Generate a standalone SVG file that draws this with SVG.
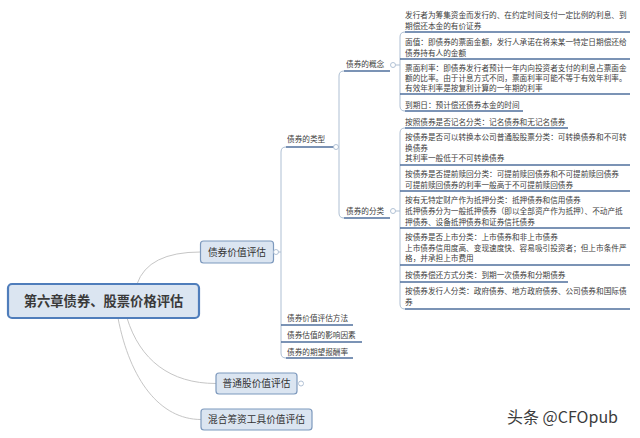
<svg xmlns="http://www.w3.org/2000/svg" width="640" height="438" viewBox="0 0 640 438">
<style>
text{font-family:"Microsoft YaHei","Noto Sans CJK SC","Noto Sans",sans-serif;fill:#404040}
.leaf{font-size:7.65px}
.node{font-size:9.7px;text-anchor:middle;fill:#333}
.root{font-size:13.3px;font-weight:bold;text-anchor:middle;fill:#3a3a3a}
.box{fill:#dbe5f1;stroke:#7d99bd;stroke-width:1.2}
.rootbox{fill:#dbe5f1;stroke:#4f7dbb;stroke-width:2.2}
.ul{stroke:#4f6f9c;stroke-width:1.3;fill:none}
.br{stroke:#aebfd3;stroke-width:1;fill:none}
.cn{stroke:#c6c6c6;stroke-width:1;fill:none}
.dot{fill:#fff;stroke:#a9bbd0;stroke-width:0.9}
.wm{font-family:"Noto Sans CJK SC","Liberation Sans",sans-serif;font-size:16px;fill:#3c3c3c;stroke:#fff;stroke-width:2;paint-order:stroke}
</style>
<rect width="640" height="438" fill="#fff"/>
<g id="connectors">
<path class="cn" d="M137,284 Q148,252 200.5,252"/>
<path class="cn" d="M127,318 C140,360 170,383.5 216,383.5"/>
<path class="cn" d="M118,318 C130,380 160,419.5 201,419.5"/>
<path class="br" d="M278.5,252 L281,252"/>
<path class="br" d="M286,147 Q281,147 281,152 L281,353 Q281,358 286,358"/>
<path class="br" d="M336.5,147 L339,147"/>
<path class="br" d="M344,71 Q339,71 339,76 L339,213 Q339,218 344,218"/>
<path class="br" d="M395.5,65 L400,65"/>
<path class="br" d="M405,32 Q400,32 400,37 L400,106 Q400,111 405,111"/>
<path class="br" d="M395.5,211 L400,211"/>
<path class="br" d="M405,128 Q400,128 400,133 L400,304 Q400,309 405,309"/>
</g>
<g id="root">
<rect class="rootbox" x="8" y="284" width="191" height="34" rx="4"/>
<text class="root" x="103.5" y="306">第六章债券、股票价格评估</text>
</g>
<g id="n-bond-value">
<rect class="box" x="200.5" y="241" width="73" height="22" rx="3"/>
<text class="node" x="237" y="255.6">债券价值评估</text>
<circle class="dot" cx="276" cy="252" r="2.5"/>
</g>
<g id="n-stock">
<rect class="box" x="216" y="373" width="81" height="21" rx="3"/>
<text class="node" x="256.5" y="387.2">普通股价值评估</text>
<circle class="dot" cx="301" cy="383.5" r="2.5"/>
</g>
<g id="n-hybrid">
<rect class="box" x="201" y="409" width="111" height="21" rx="3"/>
<text class="node" x="256.5" y="423.2">混合筹资工具价值评估</text>
</g>
<g id="n-type">
<text class="leaf" x="287" y="142">债券的类型</text>
<path class="ul" d="M286,147 L334,147"/>
<circle class="dot" cx="336" cy="147" r="2.5"/>
</g>
<g id="n-method">
<text class="leaf" x="287" y="321">债券价值评估方法</text>
<path class="ul" d="M281,325 L353,325"/>
</g>
<g id="n-factor">
<text class="leaf" x="287" y="338">债券估值的影响因素</text>
<path class="ul" d="M281,342 L362,342"/>
</g>
<g id="n-return">
<text class="leaf" x="287" y="354.5">债券的期望报酬率</text>
<path class="ul" d="M286,358 L353,358"/>
</g>
<g id="n-concept">
<text class="leaf" x="346" y="67">债券的概念</text>
<path class="ul" d="M344,71 L390,71"/>
<circle class="dot" cx="393" cy="65" r="2.5"/>
</g>
<g id="n-class">
<text class="leaf" x="346" y="214">债券的分类</text>
<path class="ul" d="M344,218 L390,218"/>
<circle class="dot" cx="393" cy="211" r="2.5"/>
</g>
<g id="c1">
<text class="leaf" x="405" y="18">发行者为筹集资金而发行的、在约定时间支付一定比例的利息、到</text>
<text class="leaf" x="405" y="29">期偿还本金的有价证券</text>
<path class="ul" d="M405,32 L630,32"/>
</g>
<g id="c2">
<text class="leaf" x="405" y="45">面值：即债券的票面金额，发行人承诺在将来某一特定日期偿还给</text>
<text class="leaf" x="405" y="55.5">债券持有人的金额</text>
<path class="ul" d="M400,59 L630,59"/>
</g>
<g id="c3">
<text class="leaf" x="405" y="70.5">票面利率：即债券发行者预计一年内向投资者支付的利息占票面金</text>
<text class="leaf" x="405" y="81">额的比率。由于计息方式不同，票面利率可能不等于有效年利率。</text>
<text class="leaf" x="405" y="91">有效年利率是按复利计算的一年期的利率</text>
<path class="ul" d="M400,94 L630,94"/>
</g>
<g id="c4">
<text class="leaf" x="405" y="107.5">到期日：预计偿还债券本金的时间</text>
<path class="ul" d="M405,111 L523,111"/>
</g>
<g id="k1">
<text class="leaf" x="405" y="124.5">按照债券是否记名分类：记名债券和无记名债券</text>
<path class="ul" d="M405,128 L568,128"/>
</g>
<g id="k2">
<text class="leaf" x="405" y="140">按债券是否可以转换本公司普通股股票分类：可转换债券和不可转</text>
<text class="leaf" x="405" y="150.5">换债券</text>
<text class="leaf" x="405" y="161">其利率一般低于不可转换债券</text>
<path class="ul" d="M400,165 L630,165"/>
</g>
<g id="k3">
<text class="leaf" x="405" y="176.5">按债券是否提前赎回分类：可提前赎回债券和不可提前赎回债券</text>
<text class="leaf" x="405" y="187.5">可提前赎回债券的利率一般高于不可提前赎回债券</text>
<path class="ul" d="M400,191 L630,191"/>
</g>
<g id="k4">
<text class="leaf" x="405" y="203">按有无特定财产作为抵押分类：抵押债券和信用债券</text>
<text class="leaf" x="405" y="214">抵押债券分为一般抵押债券（即以全部资产作为抵押）、不动产抵</text>
<text class="leaf" x="405" y="225">押债券、设备抵押债券和证券信托债券</text>
<path class="ul" d="M400,228 L630,228"/>
</g>
<g id="k5">
<text class="leaf" x="405" y="240">按债券是否上市分类：上市债券和非上市债券</text>
<text class="leaf" x="405" y="251">上市债券信用度高、变现速度快、容易吸引投资者；但上市条件严</text>
<text class="leaf" x="405" y="261">格，并承担上市费用</text>
<path class="ul" d="M400,265 L630,265"/>
</g>
<g id="k6">
<text class="leaf" x="405" y="278">按债券偿还方式分类：到期一次债券和分期债券</text>
<path class="ul" d="M400,282 L568,282"/>
</g>
<g id="k7">
<text class="leaf" x="405" y="294">按债券发行人分类：政府债券、地方政府债券、公司债券和国际债</text>
<text class="leaf" x="405" y="304.5">券</text>
<path class="ul" d="M405,309 L630,309"/>
</g>
<text class="wm" x="507" y="423">头条 @CFOpub</text>
</svg>
